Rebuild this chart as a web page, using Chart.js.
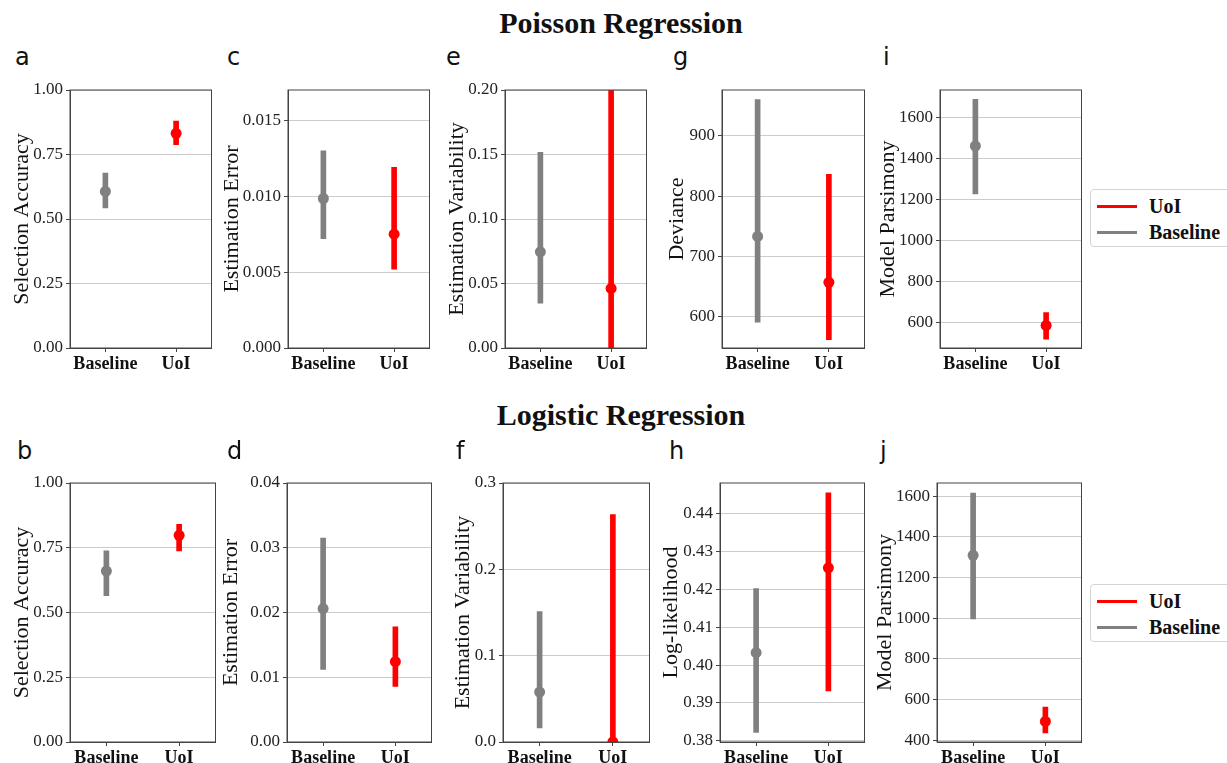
<!DOCTYPE html>
<html>
<head>
<meta charset="utf-8">
<script src="https://cdn.jsdelivr.net/npm/chart.js@4.4.1/dist/chart.umd.min.js"></script>
<style>
  body { margin: 0; width: 1227px; height: 763px; overflow: hidden; background: #fff; position: relative; font-family: 'Liberation Serif', serif; color: #111; }
  canvas { position: absolute; }
  .title { position: absolute; left: 0; width: 1242px; text-align: center; font-weight: bold; font-size: 30px; line-height: 30px; }
  .letter { position: absolute; font-family: 'DejaVu Sans', sans-serif; font-size: 24px; line-height: 24px; color: #111; }
  .legend { position: absolute; left: 1090px; width: 150px; height: 58px; box-sizing: border-box; border: 1px solid #d4d4d4; border-radius: 4px; background: #fff; }
  .legend .ln { position: absolute; left: 6px; width: 40px; height: 3px; }
  .legend .tx { position: absolute; left: 58px; font-weight: bold; font-size: 20px; line-height: 20px; }
</style>
</head>
<body>
<div class="title" style="top:8px">Poisson Regression</div>
<div class="title" style="top:400px">Logistic Regression</div>

<script>
// categories / series
const groups = ['Baseline', 'UoI'];
const groupColors = ['#808080', '#ff0000'];
const legendNames = ['UoI', 'Baseline'];
const legendColors = ['#ff0000', '#808080'];

// Poisson regression (mean, lower, upper) per group
const accPMean = [0.607, 0.832], accPLow = [0.543, 0.788], accPHigh = [0.678, 0.880];
const errPMean = [0.00985, 0.0075], errPLow = [0.0072, 0.0052], errPHigh = [0.0130, 0.0119];
const varPMean = [0.0746, 0.0462], varPLow = [0.0348, -0.02], varPHigh = [0.1517, 0.22];
const devPMean = [733, 657], devPLow = [591, 562], devPHigh = [960, 836];
const parPMean = [1462, 587], parPLow = [1228, 520], parPHigh = [1689, 650];

// Logistic regression
const accLMean = [0.660, 0.798], accLLow = [0.565, 0.738], accLHigh = [0.738, 0.840];
const errLMean = [0.0206, 0.0124], errLLow = [0.0112, 0.0086], errLHigh = [0.0315, 0.0178];
const varLMean = [0.0578, 0.0], varLLow = [0.0162, -0.03], varLHigh = [0.151, 0.2634];
const llLMean = [0.4033, 0.4257], llLLow = [0.3822, 0.3932], llLHigh = [0.4202, 0.4455];
const parLMean = [1309, 493], parLLow = [997, 436], parLHigh = [1615, 564];

// tick labels
const ticksAcc = [0, 0.25, 0.5, 0.75, 1.0];
const ticksErrP = [0, 0.005, 0.010, 0.015];
const ticksVarP = [0, 0.05, 0.10, 0.15, 0.20];
const ticksDev = [600, 700, 800, 900];
const ticksParP = [600, 800, 1000, 1200, 1400, 1600];
const ticksErrL = [0, 0.01, 0.02, 0.03, 0.04];
const ticksVarL = [0, 0.1, 0.2, 0.3];
const ticksLL = [0.38, 0.39, 0.40, 0.41, 0.42, 0.43, 0.44];
const ticksParL = [400, 600, 800, 1000, 1200, 1400, 1600];

Chart.defaults.font.family = "'Liberation Serif', serif";
Chart.defaults.color = '#111';

const FRAME = '#444';
const padTop = 14, padBottom = 40, padRight = 4;

// box = [plotLeft, plotTop, plotRight, plotBottom], tx = y-title centre
const panels = [
  { letter: 'a', lx: 15, ly: 45, label: 'Selection Accuracy', mean: accPMean, low: accPLow, high: accPHigh, ticks: ticksAcc, min: 0, max: 1, dec: 2, box: [70, 90, 211, 348], tx: 22 },
  { letter: 'c', lx: 227, ly: 45, label: 'Estimation Error', mean: errPMean, low: errPLow, high: errPHigh, ticks: ticksErrP, min: 0, max: 0.017, dec: 3, box: [288, 90, 429, 348], tx: 232 },
  { letter: 'e', lx: 446, ly: 45, label: 'Estimation Variability', mean: varPMean, low: varPLow, high: varPHigh, ticks: ticksVarP, min: 0, max: 0.2, dec: 2, box: [505, 90, 646, 348], tx: 457 },
  { letter: 'g', lx: 673, ly: 45, label: 'Deviance', mean: devPMean, low: devPLow, high: devPHigh, ticks: ticksDev, min: 548, max: 976, dec: 0, box: [722, 90, 864, 348], tx: 677 },
  { letter: 'i', lx: 883, ly: 45, label: 'Model Parsimony', mean: parPMean, low: parPLow, high: parPHigh, ticks: ticksParP, min: 477, max: 1735, dec: 0, box: [940, 90, 1081, 348], tx: 888 },
  { letter: 'b', lx: 17, ly: 439, label: 'Selection Accuracy', mean: accLMean, low: accLLow, high: accLHigh, ticks: ticksAcc, min: 0, max: 1, dec: 2, box: [70, 483, 215, 742], tx: 22 },
  { letter: 'd', lx: 227, ly: 439, label: 'Estimation Error', mean: errLMean, low: errLLow, high: errLHigh, ticks: ticksErrL, min: 0, max: 0.04, dec: 2, box: [287, 483, 431, 742], tx: 231 },
  { letter: 'f', lx: 456, ly: 439, label: 'Estimation Variability', mean: varLMean, low: varLLow, high: varLHigh, ticks: ticksVarL, min: 0, max: 0.3, dec: 1, box: [503, 483, 649, 742], tx: 463 },
  { letter: 'h', lx: 669, ly: 439, label: 'Log-likelihood', mean: llLMean, low: llLLow, high: llLHigh, ticks: ticksLL, min: 0.3797, max: 0.4481, dec: 2, box: [720, 483, 864, 742], tx: 671 },
  { letter: 'j', lx: 880, ly: 439, label: 'Model Parsimony', mean: parLMean, low: parLLow, high: parLHigh, ticks: ticksParL, min: 392, max: 1664, dec: 0, box: [937, 483, 1081, 742], tx: 885 }
];

// draws the full box round the plot, like matplotlib spines
const frame = {
  id: 'frame',
  afterDraw(chart) {
    const { ctx, chartArea: a } = chart;
    ctx.save();
    ctx.strokeStyle = FRAME;
    ctx.lineWidth = 1;
    ctx.strokeRect(a.left, a.top, a.right - a.left, a.bottom - a.top);
    ctx.restore();
  }
};

function makePanel(p) {
  const [l, t, r, b] = p.box;
  const left = p.tx - 13;
  const axisW = l - left;
  const cv = document.createElement('canvas');
  cv.width = axisW + (r - l) + padRight;
  cv.height = padTop + (b - t) + padBottom;
  cv.style.left = left + 'px';
  cv.style.top = (t - padTop) + 'px';
  document.body.appendChild(cv);

  const letter = document.createElement('div');
  letter.className = 'letter';
  letter.textContent = p.letter;
  letter.style.left = p.lx + 'px';
  letter.style.top = p.ly + 'px';
  document.body.appendChild(letter);

  const chart = new Chart(cv, {
    type: 'bar',
    data: {
      labels: groups,
      datasets: [
        {
          type: 'bar',
          data: p.low.map((lo, i) => [lo, p.high[i]]),
          backgroundColor: groupColors,
          barThickness: 5,
          grouped: false,
          order: 2,
          clip: 0
        },
        {
          type: 'line',
          data: p.mean,
          showLine: false,
          pointRadius: 5.5,
          pointHoverRadius: 5.5,
          pointBorderWidth: 0,
          pointBackgroundColor: groupColors,
          order: 1,
          clip: 0
        }
      ]
    },
    options: {
      responsive: false,
      maintainAspectRatio: false,
      animation: false,
      devicePixelRatio: 1,
      layout: { padding: { top: padTop, right: padRight, left: 0, bottom: 0 } },
      plugins: { legend: { display: false }, tooltip: { enabled: false } },
      scales: {
        x: {
          offset: true,
          grid: { offset: false, drawOnChartArea: false, tickLength: 4, tickColor: FRAME },
          border: { color: FRAME },
          ticks: { font: { size: 18, weight: 'bold' }, color: '#111', padding: 2, maxRotation: 0 },
          afterFit: s => { s.height = padBottom; }
        },
        y: {
          min: p.min,
          max: p.max,
          afterBuildTicks: s => { s.ticks = p.ticks.map(v => ({ value: v })); },
          grid: { color: '#cccccc', tickLength: 4, tickColor: FRAME },
          border: { color: FRAME },
          ticks: { font: { size: 17 }, color: '#222', padding: 3, callback: v => Number(v).toFixed(p.dec) },
          title: { display: true, text: p.label, font: { size: 22 }, color: '#111', padding: 0 },
          afterFit: s => { s.width = axisW; }
        }
      }
    },
    plugins: [frame]
  });

  // nudge the canvas so the plot area lands exactly on the box
  const ca = chart.chartArea;
  const dx = Math.round(ca.left - axisW);
  const dy = Math.round(ca.top - padTop);
  const dw = Math.round((r - l) - (ca.right - ca.left));
  const dh = Math.round((b - t) - (ca.bottom - ca.top));
  cv.style.left = (left - dx) + 'px';
  cv.style.top = (t - padTop - dy) + 'px';
  if (dw || dh) chart.resize(cv.width + dw, cv.height + dh);
}

panels.forEach(makePanel);

// legends on the right of each row
[189, 584].forEach(top => {
  const box = document.createElement('div');
  box.className = 'legend';
  box.style.top = top + 'px';
  legendNames.forEach((name, i) => {
    const ln = document.createElement('div');
    ln.className = 'ln';
    ln.style.background = legendColors[i];
    ln.style.top = (15 + i * 26) + 'px';
    const tx = document.createElement('div');
    tx.className = 'tx';
    tx.textContent = name;
    tx.style.top = (6 + i * 26) + 'px';
    box.appendChild(ln);
    box.appendChild(tx);
  });
  document.body.appendChild(box);
});
</script>
</body>
</html>
